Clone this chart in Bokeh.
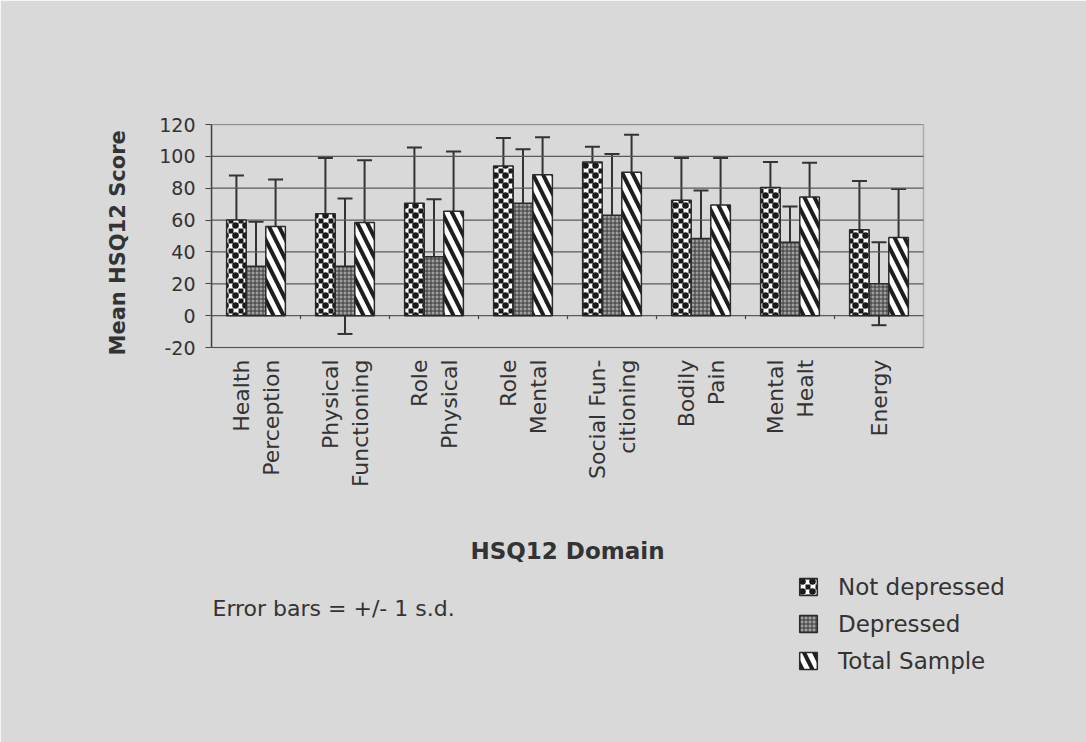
import numpy as np
from bokeh.plotting import figure
from bokeh.models import (ColumnDataSource, Whisker, TeeHead, Legend, LegendItem, Label, Title,
                          FixedTicker, Range1d, BoxAnnotation)
from bokeh.core.properties import value
from bokeh.embed import file_html
from bokeh.resources import INLINE

# ---- data ----
domains = ["Health\nPerception", "Physical\nFunctioning", "Role\nPhysical", "Role\nMental",
           "Social Fun-\ncitioning", "Bodily\nPain", "Mental\nHealt", "Energy"]
series_names = ["Not depressed", "Depressed", "Total Sample"]
mean_not_dep = [60, 64, 70.5, 94, 96.5, 72.5, 80.5, 54]
sd_not_dep = [28, 35, 35, 17.5, 9.5, 26.5, 16, 30.5]
mean_dep = [31, 31, 37, 70.5, 63, 48.5, 46, 20]
sd_dep = [28, 42.5, 36, 34, 38.5, 30, 22.5, 26]
mean_total = [56, 58.5, 65.5, 88.5, 90, 69.5, 74.5, 49]
sd_total = [29.5, 39, 37.5, 23.5, 23.5, 29.5, 21.5, 30.5]
y_ticks = [-20, 0, 20, 40, 60, 80, 100, 120]
y_tick_labels = ["-20", "0", "20", "40", "60", "80", "100", "120"]

BG = "#d9d9d9"
INK = "#333333"
FONT = "DejaVu Sans"

# ---- layout: the frame spans the canvas below/right of the plot area so that the
# legend and note (which lie outside the plotted box) are not clipped ----
W, H = 1086, 742
LEFT, TOP = 211, 124          # plot-area left / top in pixels
BOX_W, BOX_H = 712, 223       # plot-area size in pixels
n = len(domains)
y_lo, y_hi = y_ticks[0], y_ticks[-1]
px_x = BOX_W / n
px_y = BOX_H / (y_hi - y_lo)
x_end = (W - LEFT) / px_x
y_start = y_lo - (H - TOP - BOX_H) / px_y

p = figure(width=W, height=H, x_range=Range1d(0, x_end), y_range=Range1d(y_start, y_hi),
           output_backend="svg", toolbar_location=None, x_axis_location=None,
           min_border_left=LEFT, min_border_top=TOP, min_border_right=0, min_border_bottom=0)
p.background_fill_color = BG
p.border_fill_color = BG
p.outline_line_color = BG
p.outline_line_width = 2
p.grid.visible = False

xc = np.arange(n) + 0.5

# horizontal gridlines inside the plot box
p.segment(x0=0, x1=n, y0=y_ticks, y1=y_ticks, line_color="#5a5a5a", line_width=1.2)
# small tick marks between categories on the zero line
bounds = np.arange(1, n)
p.segment(x0=bounds, y0=0, x1=bounds, y1=-2.2, line_color="#444444", line_width=1.2)

offsets = [-0.22, 0.0, 0.22]
means = [mean_not_dep, mean_dep, mean_total]
sds = [sd_not_dep, sd_dep, sd_total]
outline = dict(line_color="#2a2a2a", line_width=1.5)
# each series is drawn as stacked layers of the same bars
# (checker = black fill + white cross hatch + black dots/rings in the cells)
layers = [
    [dict(fill_color="#1a1a1a", hatch_pattern="+", hatch_color="white", hatch_scale=10,
          hatch_weight=5, line_alpha=0),
     dict(fill_alpha=0, hatch_pattern=".", hatch_color="#1a1a1a", hatch_scale=10, line_alpha=0),
     dict(fill_alpha=0, hatch_pattern="o", hatch_color="#1a1a1a", hatch_scale=10,
          hatch_weight=1.6, **outline)],
    [dict(fill_color="#a0a0a0", hatch_pattern="+", hatch_color="#383838", hatch_scale=4,
          hatch_weight=1, **outline)],
    [dict(fill_color="white", hatch_pattern="\\", hatch_color="#1e1e1e", hatch_scale=20,
          hatch_weight=4, **outline)],
]

items = []
sources = []
for name, m, s, off, lay in zip(series_names, means, sds, offsets, layers):
    m = np.array(m, dtype=float)
    s = np.array(s, dtype=float)
    src = ColumnDataSource(dict(x=xc + off, top=m, upper=m + s, lower=m - s))
    rs = [p.vbar(x="x", top="top", bottom=0, width=0.22, source=src, **st) for st in lay]
    items.append(LegendItem(label=name, renderers=rs))
    sources.append(src)

for src in sources:
    w = Whisker(source=src, base="x", upper="upper", lower="lower",
                line_color=INK, line_width=2,
                upper_head=TeeHead(size=15, line_color=INK, line_width=2),
                lower_head=TeeHead(size=15, line_color=INK, line_width=2))
    p.add_layout(w)

# plot-area border
p.add_layout(BoxAnnotation(left=0, right=n, bottom=y_lo, top=y_hi, fill_alpha=0,
                           line_color="#4a4a4a", line_width=1.5))

# y axis (limited to the plot box)
p.yaxis.bounds = (y_lo, y_hi)
p.yaxis.ticker = FixedTicker(ticks=y_ticks)
p.yaxis.major_label_overrides = {t: lab for t, lab in zip(y_ticks, y_tick_labels)}
p.yaxis.axis_line_color = "#444444"
p.yaxis.axis_line_width = 1.5
p.yaxis.major_tick_out = 6
p.yaxis.major_tick_in = 0
p.yaxis.major_tick_line_color = "#444444"
p.yaxis.minor_tick_line_color = None
p.yaxis.major_label_text_font = FONT
p.yaxis.major_label_text_font_size = "19px"
p.yaxis.major_label_text_color = INK
p.yaxis.major_label_standoff = 10

# y axis title, placed beside the plot box (offset from the frame bottom)
p.add_layout(Title(text="Mean HSQ12 Score", align="left", offset=H - 355,
                   vertical_align="bottom", standoff=54, text_font=FONT,
                   text_font_size="21px", text_font_style="bold", text_color=INK), "left")

# category labels below the plot box
p.text(x=xc, y=[y_lo] * n, text=domains, angle=np.pi / 2, y_offset=12,
       text_align="right", text_baseline="middle", text_font=value(FONT),
       text_font_size="22px", text_color=INK, text_line_height=1.2)

# x axis title
p.add_layout(Label(x=n / 2, y=H - 550, x_units="data", y_units="screen", text="HSQ12 Domain",
                   text_align="center", text_baseline="middle", text_font=FONT,
                   text_font_size="23px", text_font_style="bold", text_color=INK))

# note
p.add_layout(Label(x=1, y=H - 608, x_units="screen", y_units="screen",
                   text="Error bars = +/- 1 s.d.", text_font=FONT, text_font_size="22px",
                   text_color=INK, text_baseline="middle"))

legend = Legend(items=items, location=(797 - LEFT, 68), orientation="vertical",
                background_fill_alpha=0, border_line_alpha=0, padding=0, margin=0,
                glyph_width=22, glyph_height=21, label_height=27, label_standoff=19, spacing=10,
                label_text_font=FONT, label_text_font_size="23px", label_text_color=INK)
p.add_layout(legend, "center")

open("out.html", "w").write(file_html(p, INLINE))
